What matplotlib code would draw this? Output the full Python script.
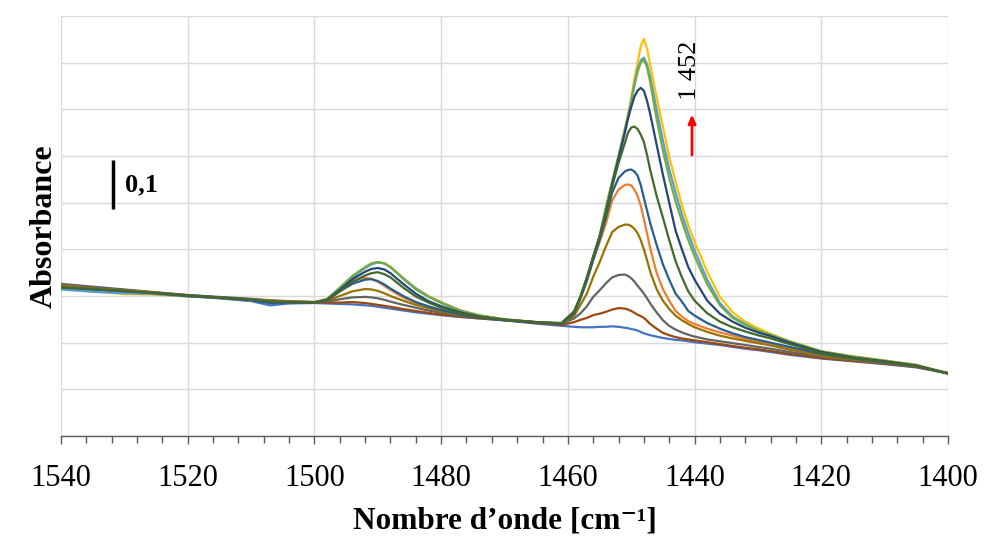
import numpy as np
import matplotlib
matplotlib.use("Agg")
import matplotlib.pyplot as plt
from matplotlib.ticker import MultipleLocator

# ---------------- data ----------------
wavenumber = [1540, 1535, 1530, 1525, 1520, 1515, 1510, 1507, 1504, 1500,
              1498, 1496, 1494, 1492, 1491, 1490, 1489, 1488, 1486, 1484, 1482, 1480, 1477, 1474, 1470,
              1465, 1461, 1459, 1458, 1457, 1456, 1455, 1454, 1453, 1452, 1451,
              1450.5, 1450, 1449.5, 1449, 1448.5, 1448, 1447.5, 1447,
              1446, 1445, 1444, 1443, 1442, 1441, 1440,
              1438, 1436, 1434, 1432, 1430, 1428, 1425, 1420, 1415, 1410, 1405, 1400]

s_blue = [0.316, 0.312, 0.308, 0.304, 0.300, 0.295, 0.289, 0.280, 0.284, 0.285,
          0.284, 0.283, 0.282, 0.280, 0.279, 0.277, 0.275, 0.273, 0.269, 0.265, 0.262, 0.259, 0.255, 0.252, 0.248,
          0.241, 0.236, 0.234, 0.233, 0.233, 0.233, 0.234, 0.234, 0.235, 0.234, 0.232,
          0.231, 0.229, 0.228, 0.226, 0.223, 0.220, 0.218, 0.216,
          0.213, 0.210, 0.208, 0.206, 0.205, 0.203, 0.201,
          0.198, 0.195, 0.191, 0.187, 0.184, 0.180, 0.174, 0.166, 0.160, 0.154, 0.147, 0.134]
s_brown = [0.320, 0.315, 0.311, 0.306, 0.301, 0.297, 0.292, 0.289, 0.287, 0.286,
           0.286, 0.286, 0.287, 0.285, 0.283, 0.281, 0.279, 0.277, 0.272, 0.268, 0.264, 0.260, 0.256, 0.252, 0.248,
           0.242, 0.238, 0.244, 0.249, 0.253, 0.259, 0.262, 0.266, 0.271, 0.274, 0.273,
           0.271, 0.268, 0.264, 0.260, 0.257, 0.253, 0.247, 0.240,
           0.230, 0.221, 0.216, 0.212, 0.209, 0.207, 0.205,
           0.201, 0.197, 0.193, 0.189, 0.186, 0.182, 0.176, 0.167, 0.161, 0.155, 0.148, 0.135]
s_gray = [0.326, 0.320, 0.314, 0.308, 0.302, 0.298, 0.294, 0.291, 0.289, 0.287,
          0.288, 0.293, 0.297, 0.298, 0.297, 0.295, 0.292, 0.288, 0.281, 0.275, 0.269, 0.264, 0.258, 0.254, 0.249,
          0.243, 0.240, 0.252, 0.263, 0.278, 0.298, 0.312, 0.327, 0.340, 0.345, 0.346,
          0.343, 0.338, 0.331, 0.322, 0.314, 0.305, 0.295, 0.284,
          0.265, 0.248, 0.236, 0.228, 0.222, 0.217, 0.213,
          0.207, 0.203, 0.199, 0.195, 0.191, 0.187, 0.180, 0.170, 0.163, 0.156, 0.149, 0.135]
s_olive = [0.322, 0.316, 0.312, 0.307, 0.300, 0.296, 0.292, 0.290, 0.288, 0.287,
           0.290, 0.300, 0.310, 0.315, 0.314, 0.311, 0.306, 0.300, 0.290, 0.281, 0.274, 0.267, 0.260, 0.255, 0.249,
           0.243, 0.240, 0.258, 0.281, 0.305, 0.341, 0.372, 0.406, 0.437, 0.448, 0.453,
           0.453, 0.450, 0.444, 0.435, 0.420, 0.400, 0.377, 0.352,
           0.315, 0.290, 0.272, 0.258, 0.248, 0.240, 0.233,
           0.223, 0.215, 0.209, 0.204, 0.199, 0.194, 0.185, 0.172, 0.164, 0.157, 0.150, 0.135]
s_orange = [0.321, 0.317, 0.313, 0.307, 0.301, 0.297, 0.293, 0.289, 0.288, 0.287,
            0.294, 0.316, 0.332, 0.339, 0.337, 0.331, 0.322, 0.313, 0.297, 0.285, 0.276, 0.268, 0.261, 0.258, 0.249,
            0.244, 0.241, 0.262, 0.297, 0.335, 0.377, 0.415, 0.455, 0.505, 0.528, 0.538,
            0.539, 0.537, 0.528, 0.515, 0.494, 0.465, 0.434, 0.402,
            0.350, 0.315, 0.290, 0.268, 0.256, 0.246, 0.240,
            0.230, 0.222, 0.215, 0.208, 0.202, 0.197, 0.188, 0.174, 0.165, 0.157, 0.149, 0.134]
s_steel = [0.318, 0.314, 0.310, 0.306, 0.300, 0.296, 0.291, 0.285, 0.286, 0.286,
           0.291, 0.310, 0.326, 0.335, 0.336, 0.332, 0.325, 0.316, 0.300, 0.287, 0.278, 0.270, 0.261, 0.254, 0.248,
           0.243, 0.240, 0.263, 0.295, 0.332, 0.377, 0.420, 0.468, 0.522, 0.553, 0.567,
           0.570, 0.571, 0.567, 0.558, 0.538, 0.510, 0.483, 0.456,
           0.410, 0.368, 0.335, 0.305, 0.288, 0.268, 0.258,
           0.242, 0.230, 0.220, 0.212, 0.206, 0.200, 0.191, 0.176, 0.166, 0.158, 0.150, 0.134]
s_dkgreen = [0.319, 0.315, 0.311, 0.306, 0.301, 0.297, 0.292, 0.288, 0.287, 0.286,
             0.291, 0.310, 0.330, 0.344, 0.349, 0.351, 0.347, 0.340, 0.318, 0.299, 0.286, 0.275, 0.263, 0.255, 0.249,
             0.244, 0.241, 0.266, 0.298, 0.338, 0.384, 0.426, 0.475, 0.535, 0.585, 0.628,
             0.650, 0.661, 0.663, 0.658, 0.646, 0.630, 0.602, 0.570,
             0.515, 0.468, 0.420, 0.375, 0.340, 0.310, 0.290,
             0.263, 0.245, 0.233, 0.224, 0.216, 0.209, 0.197, 0.178, 0.167, 0.159, 0.150, 0.134]
s_navy = [0.320, 0.316, 0.312, 0.307, 0.302, 0.297, 0.292, 0.286, 0.287, 0.286,
          0.292, 0.313, 0.336, 0.352, 0.358, 0.360, 0.357, 0.349, 0.326, 0.305, 0.289, 0.278, 0.265, 0.256, 0.249,
          0.244, 0.241, 0.266, 0.298, 0.338, 0.384, 0.426, 0.478, 0.540, 0.595, 0.650,
          0.680, 0.705, 0.727, 0.740, 0.746, 0.740, 0.718, 0.690,
          0.625, 0.560, 0.500, 0.440, 0.400, 0.362, 0.335,
          0.290, 0.262, 0.245, 0.232, 0.222, 0.214, 0.200, 0.180, 0.168, 0.160, 0.151, 0.134]
s_green = [0.318, 0.314, 0.311, 0.305, 0.300, 0.296, 0.291, 0.288, 0.287, 0.286,
           0.293, 0.318, 0.343, 0.362, 0.370, 0.373, 0.370, 0.362, 0.337, 0.314, 0.298, 0.285, 0.268, 0.258, 0.250,
           0.244, 0.242, 0.268, 0.300, 0.340, 0.384, 0.428, 0.490, 0.545, 0.600, 0.655,
           0.685, 0.715, 0.750, 0.780, 0.800, 0.806, 0.790, 0.758,
           0.680, 0.612, 0.553, 0.503, 0.460, 0.420, 0.385,
           0.325, 0.280, 0.253, 0.238, 0.226, 0.217, 0.203, 0.181, 0.170, 0.161, 0.152, 0.134]
s_ltblue = [0.314, 0.309, 0.306, 0.304, 0.299, 0.296, 0.291, 0.287, 0.287, 0.286,
            0.293, 0.317, 0.341, 0.360, 0.368, 0.372, 0.370, 0.362, 0.338, 0.316, 0.299, 0.286, 0.269, 0.258, 0.250,
            0.244, 0.242, 0.267, 0.299, 0.339, 0.383, 0.427, 0.488, 0.543, 0.598, 0.655,
            0.686, 0.718, 0.755, 0.785, 0.805, 0.811, 0.797, 0.770,
            0.700, 0.633, 0.572, 0.522, 0.475, 0.435, 0.398,
            0.335, 0.285, 0.256, 0.240, 0.226, 0.216, 0.201, 0.181, 0.170, 0.161, 0.152, 0.134]
s_yellow = [0.317, 0.310, 0.304, 0.303, 0.299, 0.297, 0.291, 0.288, 0.287, 0.286,
            0.293, 0.317, 0.341, 0.360, 0.368, 0.372, 0.370, 0.363, 0.339, 0.317, 0.300, 0.287, 0.270, 0.259, 0.250,
            0.244, 0.242, 0.267, 0.299, 0.339, 0.383, 0.427, 0.488, 0.545, 0.600, 0.660,
            0.690, 0.725, 0.765, 0.800, 0.835, 0.851, 0.830, 0.795,
            0.727, 0.663, 0.598, 0.545, 0.495, 0.452, 0.416,
            0.352, 0.298, 0.265, 0.245, 0.231, 0.219, 0.203, 0.182, 0.171, 0.162, 0.153, 0.134]

series = [s_blue, s_orange, s_yellow, s_ltblue, s_green, s_navy,
          s_brown, s_gray, s_olive, s_steel, s_dkgreen]
colors = ['#4472C4', '#ED7D31', '#FFC000', '#5B9BD5', '#70AD47', '#264478',
          '#9E480E', '#636363', '#997300', '#255E91', '#43682B']

x_ticks = [1540, 1520, 1500, 1480, 1460, 1440, 1420, 1400]
peak_label = "1 452"
scale_label = "0,1"

# ---------------- plot ----------------
plt.rcParams['font.family'] = ['Liberation Serif', 'DejaVu Serif']

fig = plt.figure(figsize=(9.86, 5.38), dpi=100)
ax = fig.add_axes([61/986, 102/538, 887/986, 420/538])

for ys, c in zip(series, colors):
    ax.plot(wavenumber, ys, color=c, lw=1.6, solid_capstyle='round', solid_joinstyle='round')

ax.set_xlim(1540, 1400)
ax.set_ylim(0, 0.9)
ax.set_xticks(x_ticks)
ax.xaxis.set_minor_locator(MultipleLocator(4))
ax.set_yticks(np.arange(0, 0.91, 0.1))
ax.set_yticklabels([])
ax.tick_params(axis='y', length=0)
ax.tick_params(axis='x', which='major', direction='out', length=6, width=1,
               color='#595959', labelsize=22, pad=14)
ax.tick_params(axis='x', which='minor', direction='out', length=5, width=1,
               color='#595959')
ax.grid(True, which='major', color='#d9d9d9', lw=1)
ax.set_axisbelow(True)
for s in ['top', 'right', 'left']:
    ax.spines[s].set_visible(False)
ax.spines['bottom'].set_color('#595959')
ax.spines['bottom'].set_linewidth(1)

ax.set_xlabel("Nombre d’onde [cm⁻¹]", fontsize=22.5, fontweight='bold', labelpad=10)
ax.set_ylabel("Absorbance", fontsize=23, fontweight='bold', labelpad=-2)

# scale bar
ax.plot([1531.8, 1531.8], [0.487, 0.591], color='black', lw=2.5, solid_capstyle='butt')
ax.text(1529.9, 0.538, scale_label, fontsize=19, fontweight='bold', va='center', ha='left')

# peak annotation
ax.text(1440.8, 0.784, peak_label, fontsize=19, rotation=90,
        va='center', ha='center')
ax.annotate('', xy=(1440.4, 0.695), xytext=(1440.4, 0.596),
            arrowprops=dict(arrowstyle='-|>,head_length=0.5,head_width=0.22',
                            color='red', lw=2))

fig.savefig('out.png', dpi=100)
